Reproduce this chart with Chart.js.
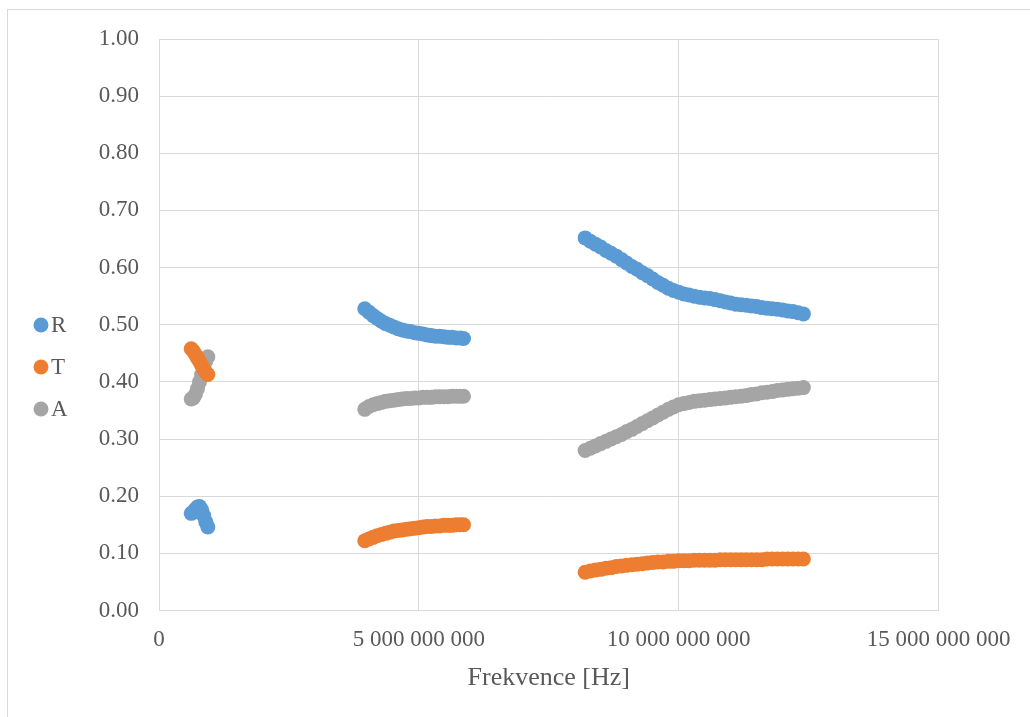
<!DOCTYPE html>
<html>
<head>
<meta charset="utf-8">
<script src="https://cdn.jsdelivr.net/npm/chart.js@4"></script>
<style>
  html, body { margin: 0; padding: 0; background: #fff; }
  #wrap { position: relative; width: 1030px; height: 717px; overflow: hidden; }
  #frame { position: absolute; left: 7px; top: 9px; width: 1022px; height: 708px;
           border-top: 1px solid #d9d9d9; border-left: 1px solid #d9d9d9; pointer-events: none; }
  canvas { position: absolute; left: 0; top: 0; }
</style>
</head>
<body>
<div id="wrap">
  <canvas id="chart" width="1030" height="717"></canvas>
  <div id="frame"></div>
</div>
<script>
// frequencies in GHz, three measured bands
const f1 = [0.62, 0.66, 0.70, 0.74, 0.78, 0.82, 0.86, 0.90, 0.94]
const f2 = [3.96, 4.04, 4.12, 4.20, 4.28, 4.36, 4.44, 4.52, 4.60, 4.68, 4.76, 4.84, 4.92,
            5.00, 5.08, 5.16, 5.24, 5.32, 5.40, 5.48, 5.56, 5.64, 5.72, 5.80, 5.86]
const f3 = [8.2, 8.3, 8.4, 8.5, 8.6, 8.7, 8.8, 8.9, 9.0, 9.1, 9.2, 9.3, 9.4, 9.5, 9.6, 9.7,
            9.8, 9.9, 10.0, 10.1, 10.2, 10.3, 10.4, 10.5, 10.6, 10.7, 10.8, 10.9, 11.0, 11.1,
            11.2, 11.3, 11.4, 11.5, 11.6, 11.7, 11.8, 11.9, 12.0, 12.1, 12.2, 12.3, 12.4]

const R1 = [0.170, 0.172, 0.177, 0.181, 0.182, 0.176, 0.166, 0.155, 0.146]
const T1 = [0.458, 0.454, 0.448, 0.442, 0.436, 0.429, 0.423, 0.417, 0.413]
const A1 = [0.370, 0.372, 0.378, 0.388, 0.400, 0.413, 0.425, 0.436, 0.444]

const R2 = [0.528, 0.522, 0.516, 0.511, 0.506, 0.502, 0.499, 0.496, 0.493, 0.491, 0.489, 0.488, 0.486,
            0.485, 0.484, 0.482, 0.481, 0.480, 0.480, 0.479, 0.478, 0.478, 0.477, 0.477, 0.476]
const T2 = [0.122, 0.125, 0.128, 0.131, 0.133, 0.135, 0.137, 0.139, 0.140, 0.141, 0.142, 0.143, 0.144,
            0.145, 0.146, 0.147, 0.147, 0.148, 0.148, 0.149, 0.149, 0.149, 0.150, 0.150, 0.150]
const A2 = [0.352, 0.357, 0.360, 0.362, 0.364, 0.366, 0.367, 0.368, 0.369, 0.370, 0.371, 0.371, 0.372,
            0.372, 0.373, 0.373, 0.373, 0.374, 0.374, 0.374, 0.374, 0.375, 0.375, 0.375, 0.375]

const R3 = [0.652, 0.646, 0.641, 0.636, 0.630, 0.625, 0.620, 0.614, 0.608, 0.602, 0.597, 0.591, 0.586,
            0.580, 0.574, 0.569, 0.564, 0.560, 0.557, 0.554, 0.552, 0.550, 0.548, 0.547, 0.546, 0.544,
            0.542, 0.540, 0.538, 0.536, 0.535, 0.534, 0.533, 0.532, 0.530, 0.529, 0.528, 0.527, 0.526,
            0.524, 0.523, 0.521, 0.519]
const T3 = [0.067, 0.069, 0.071, 0.072, 0.074, 0.075, 0.077, 0.078, 0.079, 0.080, 0.081, 0.082, 0.083,
            0.084, 0.085, 0.085, 0.086, 0.086, 0.087, 0.087, 0.087, 0.088, 0.088, 0.088, 0.088, 0.088,
            0.089, 0.089, 0.089, 0.089, 0.089, 0.089, 0.089, 0.089, 0.089, 0.090, 0.090, 0.090, 0.090,
            0.090, 0.090, 0.090, 0.090]
const A3 = [0.280, 0.284, 0.288, 0.292, 0.296, 0.300, 0.304, 0.308, 0.313, 0.317, 0.322, 0.327, 0.332,
            0.337, 0.342, 0.347, 0.352, 0.356, 0.360, 0.362, 0.364, 0.366, 0.367, 0.368, 0.369, 0.370,
            0.371, 0.372, 0.373, 0.374, 0.375, 0.376, 0.378, 0.379, 0.381, 0.382, 0.383, 0.385, 0.386,
            0.387, 0.388, 0.389, 0.390]

const seriesNames = ["R", "T", "A"]
const seriesColors = ["#5B9BD5", "#ED7D31", "#A5A5A5"]
const xTicks = [0, 5e9, 10e9, 15e9]

const FONT = "'Liberation Serif', 'Times New Roman', serif"
const TEXT = "#595959"
const GRID = "#d9d9d9"

function toPoints(freqs, vals) {
    return freqs.map((f, i) => ({ x: f * 1e9, y: vals[i] }))
}

const allFreqs = f1.concat(f2, f3)
const seriesValues = [R1.concat(R2, R3), T1.concat(T2, T3), A1.concat(A2, A3)]

let datasets = seriesNames.map((name, i) => ({
    label: name,
    data: toPoints(allFreqs, seriesValues[i]),
    backgroundColor: seriesColors[i],
    borderColor: seriesColors[i],
    pointRadius: 7.5,
    pointBorderWidth: 0,
    showLine: false
}))

function spaced(v) {
    return String(Math.round(v)).replace(/\B(?=(\d{3})+(?!\d))/g, " ")
}

// legend on the left, drawn from the datasets
const sideLegend = {
    id: "sideLegend",
    afterDraw(chart) {
        const ctx = chart.ctx
        ctx.save()
        ctx.font = "23px " + FONT
        ctx.textBaseline = "middle"
        ctx.textAlign = "left"
        chart.data.datasets.forEach((ds, i) => {
            const y = 325 + i * 42
            ctx.fillStyle = ds.backgroundColor
            ctx.beginPath()
            ctx.arc(41, y, 7.5, 0, Math.PI * 2)
            ctx.fill()
            ctx.fillStyle = TEXT
            ctx.fillText(ds.label, 51, y + 1)
        })
        ctx.restore()
    }
}

const ctx = document.getElementById("chart").getContext("2d")
const chart = new Chart(ctx, {
    type: "scatter",
    data: { datasets },
    plugins: [sideLegend],
    options: {
        responsive: false,
        animation: false,
        devicePixelRatio: 1,
        layout: { padding: { top: 39, right: 91.5, bottom: 0, left: 0 } },
        plugins: { legend: { display: false }, tooltip: { enabled: false } },
        scales: {
            x: {
                type: "linear",
                min: 0,
                max: 15e9,
                afterBuildTicks: (scale) => { scale.ticks = xTicks.map(v => ({ value: v })) },
                afterFit: (scale) => { scale.height = 106.5 },
                grid: { color: GRID, lineWidth: 1, drawTicks: false },
                border: { color: GRID },
                ticks: {
                    padding: 16,
                    color: TEXT,
                    font: { family: FONT, size: 23 },
                    maxRotation: 0,
                    callback: (v) => spaced(v)
                },
                title: {
                    display: true,
                    text: "Frekvence [Hz]",
                    color: TEXT,
                    font: { family: FONT, size: 26 },
                    padding: { top: 0, bottom: 23 }
                }
            },
            y: {
                min: 0,
                max: 1,
                afterFit: (scale) => { scale.width = 159 },
                grid: { color: GRID, lineWidth: 1, drawTicks: false },
                border: { color: GRID },
                ticks: {
                    stepSize: 0.1,
                    padding: 20,
                    color: TEXT,
                    font: { family: FONT, size: 23 },
                    callback: (v) => v.toFixed(2)
                }
            }
        }
    }
})
</script>
</body>
</html>
